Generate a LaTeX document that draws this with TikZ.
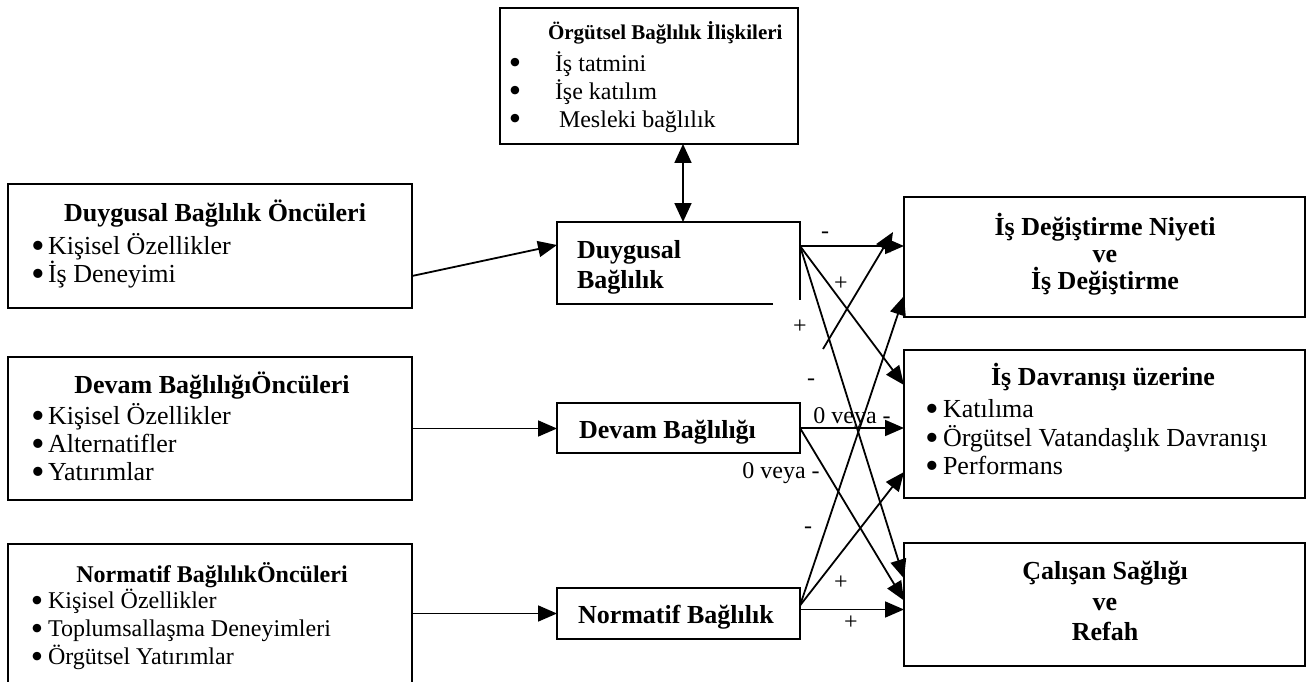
\documentclass[tikz,border=0pt]{standalone}
\usepackage{fontspec}
\setmainfont{Liberation Serif}
\newfontfamily\dejavu{DejaVu Sans}
\usetikzlibrary{arrows.meta,calc}
\newcommand\fsBig{\fontsize{26}{28}\selectfont}
\newcommand\fsMid{\fontsize{24}{26}\selectfont}
\newcommand\fsTop{\fontsize{21}{24}\selectfont}
\newcommand\fsLbl{\fontsize{24}{26}\selectfont}
\newcommand\bulD[1]{\makebox[12pt][c]{\dejavu\bfseries\raisebox{#1}{•}}}
\newcommand\bulB[1]{\makebox[12pt][c]{\dejavu\bfseries\raisebox{#1}{•}}}
\begin{document}
\begin{tikzpicture}[x=1pt,y=-1pt,
  box/.style={draw, line width=2pt, inner sep=0pt, outer sep=0pt, rectangle},
  ghost/.style={inner sep=0pt, outer sep=0pt, rectangle},
  txt/.style={inner sep=0pt, outer sep=0pt, font=\fsBig},
  lw/.style={txt, anchor=base west},
  lc/.style={txt, anchor=base},
  conn/.style={line width=1.8pt, -{Triangle[length=19pt,width=16pt]}},
  dconn/.style={line width=1.8pt, {Triangle[length=19pt,width=17pt]}-{Triangle[length=19pt,width=17pt]}},
  lbl/.style={inner sep=0pt, outer sep=0pt, anchor=base, font=\fsLbl}]
\useasboundingbox (0,0) rectangle (1312,682);
\clip (0,0) rectangle (1312,682);

% ---------- boxes ----------
\node[box, minimum width=298pt, minimum height=136pt] (top) at (649,76) {};
\node[box, minimum width=404pt, minimum height=124pt] (lb1) at (210,246) {};
\node[box, minimum width=404pt, minimum height=143pt] (lb2) at (210,428.5) {};
\node[box, minimum width=404pt, minimum height=146pt] (lb3) at (210,617) {};
\node[ghost, minimum width=243pt, minimum height=82pt] (cb1) at (678.5,263) {};
\draw[line width=2pt] ([xshift=-27pt]cb1.south east) -- (cb1.south west) -- (cb1.north west) -- (cb1.north east) -- ([yshift=4pt]cb1.south east);
\node[box, minimum width=243pt, minimum height=50pt] (cb2) at (678.5,428) {};
\node[box, minimum width=243pt, minimum height=51pt] (cb3) at (678.5,613.5) {};
\node[box, minimum width=401pt, minimum height=120pt] (r1) at (1104.5,257) {};
\node[box, minimum width=401pt, minimum height=148pt] (r2) at (1104.5,424) {};
\node[box, minimum width=401pt, minimum height=123pt] (r3) at (1104.5,604.5) {};

% ---------- texts ----------
\node[txt, anchor=base west, font=\fsTop\bfseries] (tT) at (548,40) {Örgütsel Bağlılık İlişkileri};
\node[lw, font=\fsMid] (tt1) at (509,72) {\bulB{0pt}\hspace{34pt}İş tatmini};
\node[lw, font=\fsMid] (tt2) at (509,100) {\bulB{0pt}\hspace{34pt}İşe katılım};
\node[lw, font=\fsMid] (tt3) at (509,128) {\bulB{0pt}\hspace{38pt}Mesleki bağlılık};

\node[lc, font=\fsBig\bfseries] (a0) at (215,221) {Duygusal Bağlılık Öncüleri};
\node[lw] (a1) at (32,254) {\bulD{-1pt}\hspace{4pt}Kişisel Özellikler};
\node[lw] (a2) at (32,282) {\bulD{-1pt}\hspace{4pt}İş Deneyimi};

\node[lc, font=\fsBig\bfseries] (b0) at (212,393) {Devam BağlılığıÖncüleri};
\node[lw] (b1) at (32,424) {\bulD{-1pt}\hspace{4pt}Kişisel Özellikler};
\node[lw] (b2) at (32,452) {\bulD{-1pt}\hspace{4pt}Alternatifler};
\node[lw] (b3) at (32,480) {\bulD{-1pt}\hspace{4pt}Yatırımlar};

\node[lc, font=\fsMid\bfseries] (c0) at (212,582) {Normatif BağlılıkÖncüleri};
\node[lw, font=\fsMid] (c1) at (31,608) {\bulD{-1pt}\hspace{5pt}Kişisel Özellikler};
\node[lw, font=\fsMid] (c2) at (31,636) {\bulD{-1pt}\hspace{5pt}Toplumsallaşma Deneyimleri};
\node[lw, font=\fsMid] (c3) at (31,664) {\bulD{-1pt}\hspace{5pt}Örgütsel Yatırımlar};

\node[lw, font=\fsBig\bfseries] (d1) at (577,258) {Duygusal};
\node[lw, font=\fsBig\bfseries] (d2) at (577,288) {Bağlılık};
\node[lw, font=\fsBig\bfseries] (e1) at (579,438) {Devam Bağlılığı};
\node[lw, font=\fsBig\bfseries] (f1) at (578,623) {Normatif Bağlılık};

\node[lc, font=\fsBig\bfseries] (g1) at (1105,235) {İş Değiştirme Niyeti};
\node[lc, font=\fsBig\bfseries] (g2) at (1105,262) {ve};
\node[lc, font=\fsBig\bfseries] (g3) at (1105,289) {İş Değiştirme};

\node[lc, font=\fsBig\bfseries] (h0) at (1103,385) {İş Davranışı üzerine};
\node[lw] (h1) at (926,417) {\bulD{-1pt}\hspace{5pt}Katılıma};
\node[lw] (h2) at (926,446) {\bulD{-1pt}\hspace{5pt}Örgütsel Vatandaşlık Davranışı};
\node[lw] (h3) at (926,474) {\bulD{-1pt}\hspace{5pt}Performans};

\node[lc, font=\fsBig\bfseries] (k1) at (1105,579) {Çalışan Sağlığı};
\node[lc, font=\fsBig\bfseries] (k2) at (1105,610) {ve};
\node[lc, font=\fsBig\bfseries] (k3) at (1105,640) {Refah};

% ---------- connectors ----------
\draw[dconn] ([xshift=34pt]top.south) -- ([xshift=34pt]top.south |- cb1.north);
\draw[conn] ([yshift=-30pt]lb1.east) -- ([yshift=18pt]cb1.west);
\draw[conn] (lb2.east) -- (lb2.east -| cb2.west);
\draw[conn] (cb3.west -| lb3.east) -- (cb3.west);

\draw[conn] ([yshift=17pt]cb1.east) -- ([yshift=11pt]r1.west);
\draw[conn] ([yshift=17pt]cb1.east) -- ([yshift=39pt]r2.west);
\draw[conn] ([yshift=17pt]cb1.east) -- ([yshift=26pt]r3.west);

\draw[conn] (cb2.east) -- (cb2.east -| r2.west);
\draw[conn] (cb2.east) -- ([yshift=4pt]r3.west);
\coordinate (stub) at (823,349);
\draw[conn] (stub) -- ([xshift=-11pt,yshift=25pt]r1.west);

\draw[conn] ([yshift=4pt]cb3.east) -- ([yshift=-5pt]r3.west);
\draw[conn] ([yshift=8pt]cb3.east) -- ([yshift=-48pt]r2.west);
\draw[conn] ([yshift=8pt]cb3.east) -- ([yshift=-39pt]r1.west);

% ---------- labels ----------
\node[lbl] (m1) at (825,238) {-};
\node[lbl] (p1) at (841,290) {+};
\node[lbl] (p2) at (800,333) {+};
\node[lbl] (m2) at (811,385) {-};
\node[lbl] (v1) at (852,423) {0 veya -};
\node[lbl] (v2) at (781,478) {0 veya -};
\node[lbl] (m3) at (808,533) {-};
\node[lbl] (p3) at (841,589) {+};
\node[lbl] (p4) at (851,629) {+};
\end{tikzpicture}
\end{document}
